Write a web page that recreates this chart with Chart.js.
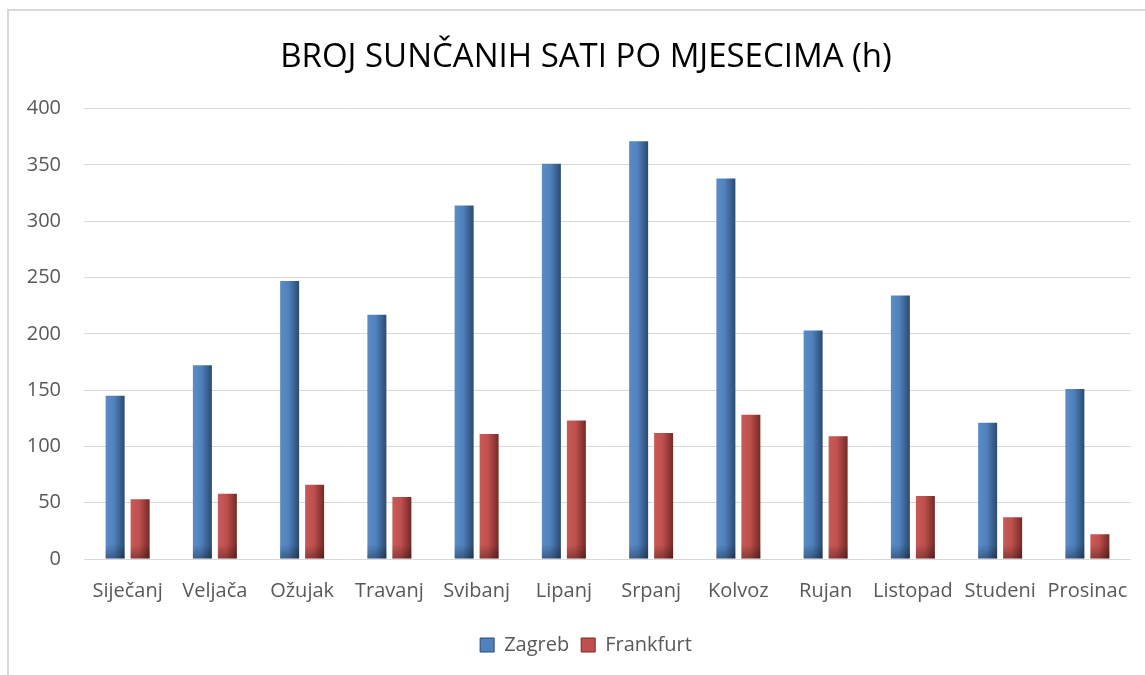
<!DOCTYPE html>
<html>
<head>
<meta charset="utf-8">
<title>Broj sunčanih sati</title>
<script src="https://cdn.jsdelivr.net/npm/chart.js@4/dist/chart.umd.min.js"></script>
<style>
  html, body { margin:0; padding:0; background:#fff; overflow:hidden; }
  #frame { position:absolute; left:7px; top:9px; width:1200px; height:700px;
           border-top:2px solid #d9d9d9; border-left:2px solid #d9d9d9; }
  #chart { position:absolute; left:0; top:0; }
</style>
</head>
<body>
<div id="frame"></div>
<!-- canvas runs past the window on the right, like the cropped original box -->
<canvas id="chart" width="1186" height="675"></canvas>
<script>
// months (Croatian, as in the original)
const months = ['Siječanj','Veljača','Ožujak','Travanj','Svibanj','Lipanj',
                'Srpanj','Kolvoz','Rujan','Listopad','Studeni','Prosinac'];

// sunshine hours
const zagreb    = [145, 172, 247, 217, 314, 351, 371, 338, 203, 234, 121, 151];
const frankfurt = [ 53,  58,  66,  55, 111, 123, 112, 128, 109,  56,  37,  22];

const yMin = 0, yMax = 400, yStep = 50;

const FONT = '"Open Sans", Lato, sans-serif';
const GREY = '#595959';

// light -> dark (left -> right) shading like the office "cylinder" bars
const shades = [
  ['#5b8cc8', '#4f81bd', '#2b4a70'],
  ['#c95a57', '#c0504d', '#732a28']
];

// horizontal gradient on each bar + dark foot
const barShade = {
  id: 'barShade',
  beforeDatasetsDraw(chart){
    const ctx = chart.ctx;
    chart.data.datasets.forEach((ds, di)=>{
      const meta = chart.getDatasetMeta(di);
      meta.data.forEach(el=>{
        const p = el.getProps(['x','width'], true);
        const left = p.x - p.width/2;
        const g = ctx.createLinearGradient(left, 0, left + p.width, 0);
        g.addColorStop(0, shades[di][0]);
        g.addColorStop(0.45, shades[di][1]);
        g.addColorStop(1, shades[di][2]);
        el.options = Object.assign({}, el.options, {backgroundColor: g});
      });
    });
  },
  afterDatasetsDraw(chart){
    const ctx = chart.ctx;
    chart.data.datasets.forEach((ds, di)=>{
      chart.getDatasetMeta(di).data.forEach(el=>{
        const p = el.getProps(['x','y','base','width'], true);
        const h = Math.min(14, p.base - p.y);
        const g = ctx.createLinearGradient(0, p.base - h, 0, p.base);
        g.addColorStop(0, 'rgba(0,0,0,0)');
        g.addColorStop(1, 'rgba(0,0,0,0.3)');
        ctx.save();
        ctx.fillStyle = g;
        ctx.fillRect(p.x - p.width/2, p.base - h, p.width, h);
        ctx.restore();
      });
    });
  }
};

new Chart(document.getElementById('chart'), {
  type: 'bar',
  data: {
    labels: months,
    datasets: [
      {label:'Zagreb', data: zagreb, backgroundColor:'#4f81bd', borderWidth:0},
      {label:'Frankfurt', data: frankfurt, backgroundColor:'#c0504d', borderWidth:0}
    ]
  },
  options: {
    responsive: false,
    animation: false,
    categoryPercentage: 0.573,
    barPercentage: 0.76,
    layout: { padding: { left: 0, right: 14, top: 0, bottom: 10 } },
    plugins: {
      title: {
        display: true,
        text: 'BROJ SUNČANIH SATI PO MJESECIMA (h)',
        color: '#000',
        font: { family: FONT, size: 33, weight: 'normal' },
        padding: { top: 38, bottom: 31 }
      },
      legend: {
        position: 'bottom',
        labels: {
          color: GREY,
          font: { family: FONT, size: 20 },
          boxWidth: 14, boxHeight: 14,
          padding: 12,
          generateLabels(chart){
            return chart.data.datasets.map((ds, i)=>({
              text: ds.label,
              fillStyle: shades[i][1],
              strokeStyle: shades[i][2],
              lineWidth: 1,
              fontColor: GREY,
              datasetIndex: i
            }));
          }
        }
      },
      tooltip: { enabled: false }
    },
    scales: {
      x: {
        grid: { display: false, drawTicks: false },
        border: { display: false },
        ticks: { color: GREY, font: { family: FONT, size: 20 }, padding: 20, maxRotation: 0 },
        afterFit(s){ s.height = 64; }
      },
      y: {
        min: yMin, max: yMax,
        grid: { color: '#d9d9d9', lineWidth: 1, drawTicks: false },
        border: { display: false },
        ticks: { stepSize: yStep, color: GREY, font: { family: FONT, size: 20 }, padding: 23 },
        afterFit(s){ s.width = 84; }
      },
      // empty right-hand spacer so the plot ends where the original does
      spacer: {
        type: 'linear',
        position: 'right',
        grid: { display: false },
        border: { display: false },
        ticks: { display: false },
        afterFit(s){ s.width = 41; }
      }
    }
  },
  plugins: [barShade]
});
</script>
</body>
</html>
